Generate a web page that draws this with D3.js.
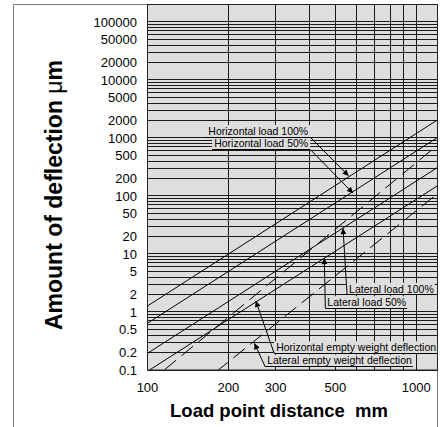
<!DOCTYPE html>
<html>
<head>
<meta charset="utf-8">
<script src="https://d3js.org/d3.v7.min.js"></script>
<style>
  body { margin: 0; background: #fff; }
  svg text { font-family: "Liberation Sans", Arial, sans-serif; fill: #000; }
</style>
</head>
<body>
<svg id="chart" width="443" height="427"></svg>
<script>
// load point distance (mm) at both ends of every line
const distances = [100, 1200];
// deflection (um) at those two distances
const horizontalLoad100 = [1.27, 2050];
const horizontalLoad50 = [0.64, 1020];
const lateralLoad100 = [0.194, 310];
const lateralLoad50 = [0.095, 150];
const horizontalEmpty = [0.058, 750];
const lateralEmpty = [0.0104, 110];

const seriesNames = ['Horizontal load 100%', 'Horizontal load 50%', 'Lateral load 100%',
  'Lateral load 50%', 'Horizontal empty weight deflection', 'Lateral empty weight deflection'];
const seriesValues = [horizontalLoad100, horizontalLoad50, lateralLoad100,
  lateralLoad50, horizontalEmpty, lateralEmpty];
const dashedNames = ['Horizontal empty weight deflection', 'Lateral empty weight deflection'];

const xTickLabels = [100, 200, 300, 500, 1000];
const yTickLabels = [0.1, 0.2, 0.5, 1, 2, 5, 10, 20, 50, 100, 200, 500, 1000, 2000, 5000,
  10000, 20000, 50000, 100000];

// callouts: arrow tip and label corner, both in data units
const callouts = [
  {text: 'Horizontal load 100%', tip: [560, 223], at: [403, 1036], side: 'left'},
  {text: 'Horizontal load 50%', tip: [582, 112], at: [403, 635], side: 'left'},
  {text: 'Lateral load 100%', tip: [534, 27.9], at: [553, 1.97], side: 'right'},
  {text: 'Lateral load 50%', tip: [455, 8.5], at: [459, 1.16], side: 'right'},
  {text: 'Horizontal empty weight deflection', tip: [253, 1.55], at: [296, 0.194], side: 'right'},
  {text: 'Lateral empty weight deflection', tip: [250, 0.289], at: [274, 0.114], side: 'right'}
];

const svg = d3.select('#chart');
const pLeft = 147.5, pRight = 437.5, pTop = 4.5, pBottom = 370;
const bg = '#dedede';

const x = d3.scaleLog().domain([100, 1200]).range([pLeft, pRight]);
const y = d3.scaleLog().domain([0.1, 200000]).range([pBottom, pTop]);
const snap = v => Math.round(v - 0.5) + 0.5;

// outer frame
svg.append('path')
  .attr('d', `M13.5,427V${pTop}H${pRight}V427`)
  .attr('fill', 'none').attr('stroke', '#7a7a7a').attr('stroke-width', 1);

svg.append('rect')
  .attr('x', pLeft).attr('y', pTop)
  .attr('width', pRight - pLeft).attr('height', pBottom - pTop)
  .attr('fill', bg);

svg.append('defs').append('clipPath').attr('id', 'plot')
  .append('rect').attr('x', pLeft).attr('y', pTop)
  .attr('width', pRight - pLeft).attr('height', pBottom - pTop);

const grid = svg.append('g').attr('stroke', '#1a1a1a').attr('stroke-width', 1);
grid.selectAll('line.h').data(y.ticks()).enter().append('line')
  .attr('class', 'h')
  .attr('x1', pLeft).attr('x2', pRight)
  .attr('y1', d => snap(y(d))).attr('y2', d => snap(y(d)));
grid.selectAll('line.v').data(x.ticks()).enter().append('line')
  .attr('class', 'v')
  .attr('y1', pTop).attr('y2', pBottom)
  .attr('x1', d => snap(x(d))).attr('x2', d => snap(x(d)));

// deflection lines
const line = d3.line().x(d => x(d[0])).y(d => y(d[1]));
svg.append('g').attr('clip-path', 'url(#plot)')
  .selectAll('path').data(seriesNames).enter().append('path')
  .attr('d', (name, i) => line(distances.map((L, j) => [L, seriesValues[i][j]])))
  .attr('fill', 'none').attr('stroke', '#000').attr('stroke-width', 1)
  .attr('stroke-dasharray', name => dashedNames.includes(name) ? '15,7' : null);

svg.append('rect')
  .attr('x', pLeft).attr('y', pTop)
  .attr('width', pRight - pLeft).attr('height', pBottom - pTop)
  .attr('fill', 'none').attr('stroke', '#222').attr('stroke-width', 1);

// tick labels
svg.append('g').selectAll('text').data(yTickLabels).enter().append('text')
  .attr('x', 137).attr('y', d => y(d)).attr('dy', '0.36em')
  .attr('text-anchor', 'end').attr('font-size', 13)
  .text(d => d);
svg.append('g').selectAll('text').data(xTickLabels).enter().append('text')
  .attr('x', d => x(d)).attr('y', 391.5)
  .attr('text-anchor', 'middle').attr('font-size', 13)
  .text(d => d);

// axis titles
svg.append('text')
  .attr('x', 279).attr('y', 416.5)
  .attr('text-anchor', 'middle').attr('font-size', 18.5).attr('font-weight', 'bold')
  .text('Load point distance\u00a0 mm');

const yTitle = svg.append('text')
  .attr('transform', 'translate(61.5,195) rotate(-90)')
  .attr('text-anchor', 'middle').attr('font-size', 23).attr('font-weight', 'bold');
yTitle.append('tspan').text('Amount of deflection ');
yTitle.append('tspan').attr('font-weight', 'normal').text('\u03bc');
yTitle.append('tspan').text('m');

// callouts
svg.append('defs').append('marker')
  .attr('id', 'arrow').attr('viewBox', '0 0 10 10')
  .attr('refX', 10).attr('refY', 5)
  .attr('markerWidth', 9).attr('markerHeight', 6)
  .attr('markerUnits', 'userSpaceOnUse').attr('orient', 'auto')
  .append('path').attr('d', 'M0,0L10,5L0,10Z').attr('fill', '#000');

const notes = svg.append('g');
const boxes = notes.append('g');
const labels = notes.append('g');
callouts.forEach(c => {
  const ax = x(c.at[0]), ay = y(c.at[1]);
  const t = labels.append('text')
    .attr('font-size', 10.5)
    .text(c.text);
  const w = t.node().getComputedTextLength();
  let x0, x1;
  if (c.side === 'left') {
    t.attr('x', ax - 2).attr('y', ay - 2.2).attr('text-anchor', 'end');
    x0 = ax - w - 4; x1 = ax;
  } else {
    t.attr('x', ax + 2).attr('y', ay - 2.2);
    x0 = ax; x1 = ax + w + 3;
  }
  boxes.append('rect')
    .attr('x', x0).attr('y', ay - 12).attr('width', x1 - x0).attr('height', 12)
    .attr('fill', bg);
  labels.append('line')
    .attr('x1', x0).attr('x2', x1).attr('y1', snap(ay)).attr('y2', snap(ay))
    .attr('stroke', '#000').attr('stroke-width', 1);
  labels.append('line')
    .attr('x1', ax).attr('y1', ay)
    .attr('x2', x(c.tip[0])).attr('y2', y(c.tip[1]))
    .attr('stroke', '#000').attr('stroke-width', 1)
    .attr('marker-end', 'url(#arrow)');
});
</script>
</body>
</html>
